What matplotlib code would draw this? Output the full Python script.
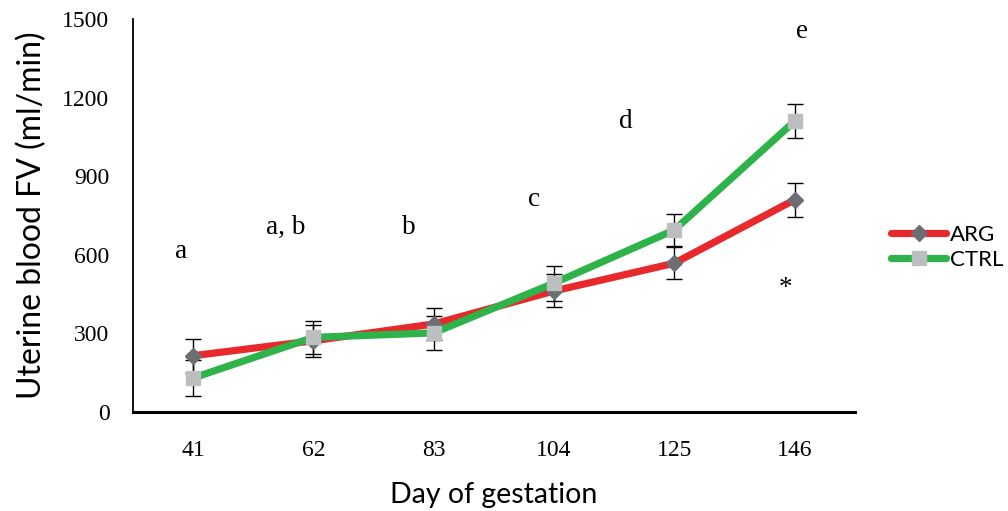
import matplotlib

matplotlib.use("Agg")
import matplotlib.pyplot as plt  # noqa: E402

# uterine blood flow volume by day of gestation, two treatment groups
days = ["41", "62", "83", "104", "125", "146"]
arg_mean = [215, 272, 336, 462, 568, 810]
arg_sem = [65, 62, 62, 63, 62, 65]
ctrl_mean = [130, 285, 302, 492, 695, 1110]
ctrl_sem = [68, 62, 65, 67, 62, 65]

# significance letters for the day effect, plus the group-difference star
sig_text = ["a", "a, b", "b", "c", "d", "e", "*"]
sig_x = [-0.10, 0.77, 1.79, 2.83, 3.60, 5.06, 4.92]
sig_y = [611, 706, 706, 813, 1107, 1454, 470]

SERIF = ["Liberation Serif", "DejaVu Serif"]
SANS = ["Lato", "DejaVu Sans"]

fig = plt.figure(figsize=(10.08, 5.11), dpi=100)
ax = fig.add_axes([0.132, 0.1937, 0.716, 0.7691])
xs = range(len(days))

ax.errorbar(xs, arg_mean, yerr=arg_sem, fmt="none", ecolor="black",
            elinewidth=1, capsize=5.5, capthick=1, zorder=2)
ax.errorbar(xs, ctrl_mean, yerr=ctrl_sem, fmt="none", ecolor="black",
            elinewidth=1, capsize=5.5, capthick=1, zorder=2)
ax.plot(xs, arg_mean, "-D", color="#E8292B", lw=5.2, marker="D", ms=8,
        mfc="#6D6E71", mec="#6D6E71", label="ARG", zorder=3,
        solid_capstyle="round")
ax.plot(xs, ctrl_mean, "-s", color="#2DB34A", lw=5.2, ms=10,
        mfc="#BCBEC0", mec="#BCBEC0", label="CTRL", zorder=4,
        solid_capstyle="round")

for t, x, y in zip(sig_text, sig_x, sig_y):
    ax.text(x, y, t, ha="center", va="center", fontsize=19.5, family=SERIF)

ax.set_xlim(-0.5, len(days) - 0.5)
ax.set_ylim(0, 1500)
ax.set_xticks(list(xs))
ax.set_xticklabels(days)
ax.set_yticks([0, 300, 600, 900, 1200, 1500])
ax.tick_params(length=0, labelsize=17, pad=17)
ax.tick_params(axis="x", pad=20)
for lab in ax.get_xticklabels() + ax.get_yticklabels():
    lab.set_family(SERIF)

for s in ("top", "right"):
    ax.spines[s].set_visible(False)
ax.spines["left"].set_linewidth(1.3)
ax.spines["bottom"].set_linewidth(2.2)

ax.set_xlabel("Day of gestation", fontsize=20.5, family=SANS, labelpad=15)
ax.set_ylabel("Uterine blood FV (ml/min)", fontsize=23, family=SANS, labelpad=11)

leg = fig.legend(loc="upper left", bbox_to_anchor=(0.875, 0.578), frameon=False,
                 fontsize=16, handlelength=2.5, handletextpad=0.15,
                 labelspacing=0.25, borderaxespad=0)
for t in leg.get_texts():
    t.set_family(SANS)

fig.savefig("out.png", dpi=100)
